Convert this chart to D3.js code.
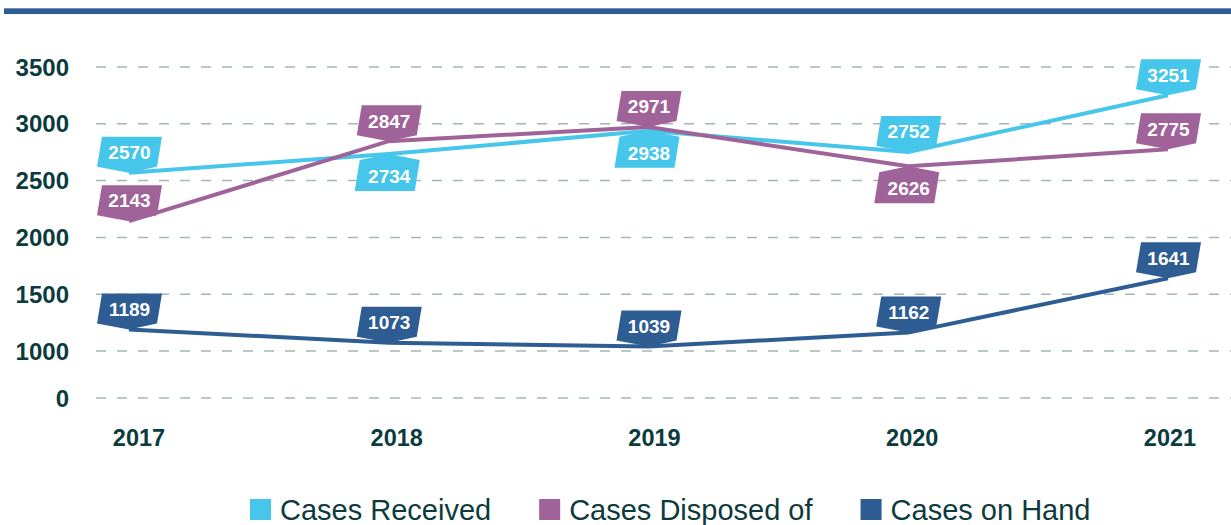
<!DOCTYPE html>
<html>
<head>
<meta charset="utf-8">
<script src="https://cdn.jsdelivr.net/npm/d3@7"></script>
<style>
  html, body { margin: 0; padding: 0; background: #fff; }
  svg { display: block; }
</style>
</head>
<body>
<svg id="chart" width="1231" height="525"></svg>
<script>
const years = ["2017", "2018", "2019", "2020", "2021"];
const casesReceived = [2570, 2734, 2938, 2752, 3251];
const casesDisposed = [2143, 2847, 2971, 2626, 2775];
const casesOnHand = [1189, 1073, 1039, 1162, 1641];
const yTicks = [0, 1000, 1500, 2000, 2500, 3000, 3500];
const seriesNames = ["Cases Received", "Cases Disposed of", "Cases on Hand"];
const seriesColors = ["#46c6eb", "#9f6399", "#2e5d93"];

const series = [
  { name: seriesNames[0], values: casesReceived, color: seriesColors[0] },
  { name: seriesNames[1], values: casesDisposed, color: seriesColors[1] },
  { name: seriesNames[2], values: casesOnHand, color: seriesColors[2] }
];

const textColor = "#0c3b3e";
const svg = d3.select("#chart");

// top rule
svg.append("rect").attr("x", 4).attr("y", 8).attr("width", 1231).attr("height", 6).attr("fill", "#2e5d93");
svg.append("rect").attr("x", 4).attr("y", 8).attr("width", 1231).attr("height", 1).attr("fill", "#6d8fb8");

// broken y scale: 0 then 1000..3500
const y = d3.scaleLinear().domain([0, 1000, 3500]).range([398, 351, 67]);
const x = d3.scalePoint().domain(years).range([129, 1168]);
const xLab = d3.scalePoint().domain(years).range([139, 1170]);

// gridlines
svg.append("g").selectAll("line").data(yTicks).join("line")
  .attr("x1", 96).attr("x2", 1231)
  .attr("y1", d => y(d)).attr("y2", d => y(d))
  .attr("stroke", "#a4b6b6").attr("stroke-width", 1.5)
  .attr("stroke-dasharray", "10,11");

// y tick labels
svg.append("g").selectAll("text").data(yTicks).join("text")
  .attr("x", 69).attr("y", d => y(d)).attr("dy", "0.36em")
  .attr("text-anchor", "end")
  .attr("font-family", "Liberation Sans, Arial, sans-serif")
  .attr("font-weight", "bold").attr("font-size", 24)
  .attr("fill", textColor)
  .text(d => d);

// x labels
svg.append("g").selectAll("text").data(years).join("text")
  .attr("x", d => xLab(d)).attr("y", 446)
  .attr("text-anchor", "middle")
  .attr("font-family", "Liberation Sans, Arial, sans-serif")
  .attr("font-weight", "bold").attr("font-size", 23.5)
  .attr("fill", textColor)
  .text(d => d);

// lines
const line = d3.line().x((d, i) => x(years[i])).y(d => y(d));
const drawOrder = [2, 0, 1];
drawOrder.forEach(si => {
  const s = series[si];
  svg.append("path").datum(s.values)
    .attr("d", line)
    .attr("fill", "none")
    .attr("stroke", s.color)
    .attr("stroke-width", 4)
    .attr("stroke-linejoin", "miter");
});

// label placement: lower of received/disposed goes below when close
function isBelow(si, i) {
  if (si === 2) return false;
  const other = si === 0 ? 1 : 0;
  const a = series[si].values[i], b = series[other].values[i];
  return a < b && (b - a) < 300;
}

const labelG = svg.append("g");
drawOrder.forEach(si => {
  const s = series[si];
  s.values.forEach((v, i) => {
    const px = x(years[i]), py = y(v);
    const below = isBelow(si, i);
    let pts, cy;
    if (!below) {
      pts = [[px - 32, py - 6], [px - 27, py - 36], [px + 33, py - 36], [px + 28, py - 6], [px, py]];
      cy = py - 20.5;
    } else {
      pts = [[px - 29, py + 6], [px, py], [px + 31, py + 6], [px + 26, py + 37], [px - 34, py + 37]];
      cy = py + 22;
    }
    labelG.append("polygon")
      .attr("points", pts.map(p => p.join(",")).join(" "))
      .attr("fill", s.color);
    labelG.append("text")
      .attr("x", px + 0.5).attr("y", cy).attr("dy", "0.36em")
      .attr("text-anchor", "middle")
      .attr("font-family", "Liberation Sans, Arial, sans-serif")
      .attr("font-weight", "bold").attr("font-size", 19)
      .attr("fill", "#fff")
      .text(v);
  });
});

// legend
const legend = svg.append("g");
let lx = 250;
series.forEach(s => {
  legend.append("rect").attr("x", lx).attr("y", 499).attr("width", 21).attr("height", 21).attr("fill", s.color);
  const t = legend.append("text")
    .attr("x", lx + 30).attr("y", 519.5)
    .attr("font-family", "Liberation Sans, Arial, sans-serif")
    .attr("font-size", 29)
    .attr("fill", textColor)
    .text(s.name);
  lx += 30 + t.node().getComputedTextLength() + 48;
});
</script>
</body>
</html>
